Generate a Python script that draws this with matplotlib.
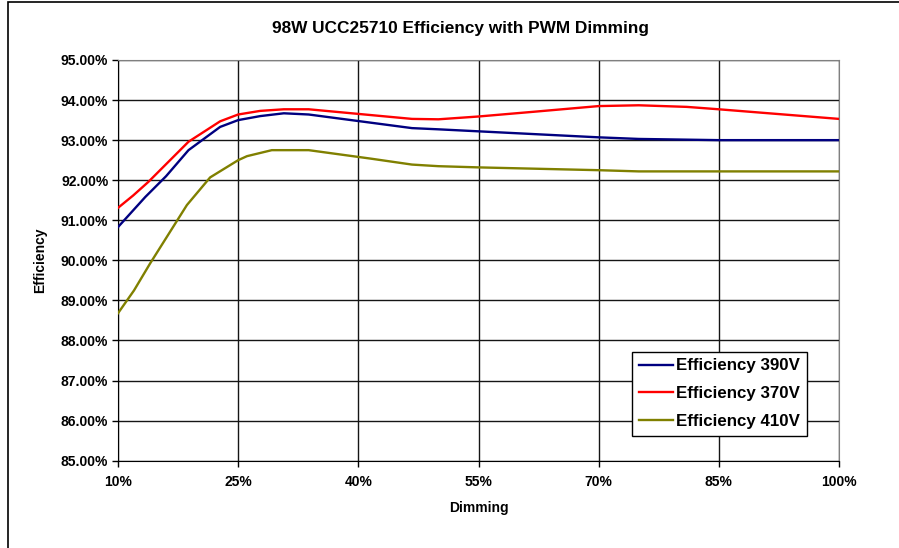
import matplotlib
matplotlib.use('Agg')
import matplotlib.pyplot as plt
from matplotlib.patches import Rectangle
from matplotlib.ticker import FuncFormatter

plt.rcParams['font.family'] = ['Liberation Sans', 'DejaVu Sans']
plt.rcParams['font.weight'] = 'bold'

# dimming (%) / efficiency (%)
dim_390 = [10, 13.4, 16, 18.8, 22.75, 25, 27.75, 30.7, 33.8, 40.25, 46.7, 50, 55, 70, 75, 85, 100]
eff_390 = [90.83, 91.58, 92.1, 92.75, 93.33, 93.5, 93.6, 93.67, 93.64, 93.47, 93.3, 93.27, 93.22, 93.07, 93.03, 93.0, 93.0]

dim_370 = [10, 11.9, 13.8, 16, 18.8, 22.75, 25, 27.75, 30.7, 33.8, 40.25, 46.7, 50, 55, 62, 70, 75, 81, 85, 100]
eff_370 = [91.31, 91.62, 91.96, 92.4, 92.96, 93.47, 93.64, 93.73, 93.77, 93.77, 93.65, 93.53, 93.52, 93.59, 93.71, 93.85, 93.87, 93.83, 93.77, 93.53]

dim_410 = [10, 12, 14, 18.6, 21.5, 25, 26.1, 29.2, 33.8, 41.5, 46.7, 50, 55, 70, 75, 85, 100]
eff_410 = [88.68, 89.25, 89.92, 91.38, 92.07, 92.5, 92.6, 92.75, 92.75, 92.54, 92.39, 92.35, 92.32, 92.25, 92.22, 92.22, 92.22]

x_ticks = [10, 25, 40, 55, 70, 85, 100]
y_ticks = [85, 86, 87, 88, 89, 90, 91, 92, 93, 94, 95]

fig = plt.figure(figsize=(8.99, 5.48), dpi=100)
ax = fig.add_axes([118 / 899, 1 - 460.7 / 548, 721 / 899, 400.7 / 548])

# outer chart border
fig.patches.append(Rectangle((8 / 899, -0.02), 1.1, 1 - 1.5 / 548 + 0.02, transform=fig.transFigure,
                             fill=False, edgecolor='black', linewidth=1.2))

ax.plot(dim_390, eff_390, color='#000080', lw=1.7, label='Efficiency 390V', zorder=3)
ax.plot(dim_370, eff_370, color='#FF0000', lw=1.7, label='Efficiency 370V', zorder=3)
ax.plot(dim_410, eff_410, color='#808000', lw=1.7, label='Efficiency 410V', zorder=3)

ax.set_xlim(10, 100)
ax.set_ylim(85, 95)
ax.set_xticks(x_ticks)
ax.set_yticks(y_ticks)
ax.xaxis.set_major_formatter(FuncFormatter(lambda v, p: '%d%%' % v))
ax.yaxis.set_major_formatter(FuncFormatter(lambda v, p: '%.2f%%' % v))
ax.tick_params(axis='both', direction='out', length=4, width=1, labelsize=10)
ax.tick_params(axis='x', pad=6)
ax.tick_params(axis='y', pad=3)

ax.grid(True, color='#151515', linewidth=1)
ax.set_axisbelow(True)
for s in ['top', 'right']:
    ax.spines[s].set_color('#808080')
for s in ['left', 'bottom']:
    ax.spines[s].set_color('black')

ax.set_xlabel('Dimming', fontsize=10, fontweight='bold', labelpad=9)
ax.set_ylabel('Efficiency', fontsize=10, fontweight='bold', labelpad=10)
fig.text(460 / 899, 1 - 28 / 548, '98W UCC25710 Efficiency with PWM Dimming',
         ha='center', va='center', fontsize=12.4, fontweight='bold')

leg = ax.legend(loc='upper right', bbox_to_anchor=(0.955, 0.272), borderaxespad=0,
                fancybox=False, framealpha=1, edgecolor='black', fontsize=12.2,
                handlelength=2.0, handletextpad=0.2, labelspacing=0.75, borderpad=0.4)
leg.get_frame().set_linewidth(1)

fig.savefig('out.png', dpi=100)
